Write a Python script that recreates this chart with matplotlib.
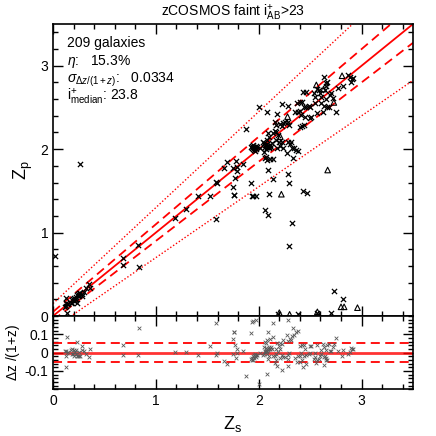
import numpy as np
import matplotlib
matplotlib.use("Agg")
import matplotlib.pyplot as plt
from matplotlib.ticker import MultipleLocator

# spectroscopic / photometric redshifts, crosses
zs_cross = [
    # low-z clump
    0.136, 0.13, 0.14, 0.13, 0.15, 0.13, 0.18, 0.20, 0.21, 0.22, 0.23, 0.25, 0.26, 0.23,
    0.20, 0.18, 0.17, 0.28, 0.28, 0.30, 0.32, 0.36, 0.22, 0.25, 0.35, 0.12, 0.19, 0.24,
    0.02, 0.26,
    # intermediate
    0.68, 0.68, 0.84, 0.83, 1.19, 1.29, 1.41, 1.53, 1.58, 1.59, 1.66, 1.69, 1.75, 1.75,
    1.76, 1.77, 1.78, 1.79, 1.79, 1.85, 1.88,
    # z ~ 2 blobs
    1.92, 1.93, 1.94, 1.95, 1.96, 1.97, 1.95, 1.93, 1.98, 1.94, 1.96, 1.97,
    2.06, 2.07, 2.08, 2.09, 2.10, 2.11, 2.08, 2.10, 2.12, 2.07,
    2.01, 2.05, 2.13, 2.18, 2.21, 2.05, 2.07, 2.11, 2.14, 2.27, 2.04, 2.06,
    2.09, 2.10, 2.08, 2.16, 2.19, 2.17, 2.23, 2.28, 2.30, 2.34, 2.38, 2.33,
    2.14, 2.17, 2.24, 2.32, 2.36, 2.06, 2.08, 2.31, 2.20,
    # high-z
    2.00, 2.08, 2.18, 2.23, 2.28, 2.16, 2.17, 2.21, 2.23, 2.24, 2.28, 2.29, 2.26,
    2.35, 2.37, 2.38, 2.40, 2.40, 2.41, 2.42, 2.43, 2.44, 2.46, 2.46, 2.49, 2.50,
    2.40, 2.42, 2.44, 2.45, 2.51, 2.50, 2.57, 2.54, 2.55, 2.55, 2.57, 2.59, 2.60,
    2.61, 2.61, 2.62, 2.63, 2.63, 2.64, 2.65, 2.65, 2.65, 2.66, 2.66, 2.68, 2.69,
    2.70, 2.72, 2.75, 2.77, 2.82, 2.87, 2.89, 2.90, 2.91, 2.92,
    # catastrophic outliers
    1.92, 1.93, 1.94, 1.97, 1.76, 2.09, 2.14, 2.10, 2.28, 2.29, 2.43, 2.47, 2.06,
    2.09, 1.58, 2.32, 2.29, 2.73, 2.82, 2.70, 2.38, 2.19, 2.57,
]
zp_cross = [
    0.04, 0.15, 0.145, 0.12, 0.145, 0.22, 0.19, 0.22, 0.205, 0.23, 0.25, 0.27, 0.28, 0.16,
    0.18, 0.155, 0.155, 0.26, 0.235, 0.29, 0.33, 0.33, 0.20, 0.245, 0.38, 0.11, 0.20, 0.26,
    0.72, 1.82,
    0.61, 0.70, 0.59, 0.85, 1.18, 1.28, 1.44, 1.44, 1.61, 1.60, 1.78, 1.85, 1.77, 1.55,
    1.45, 1.65, 1.86, 1.79, 1.74, 1.82, 2.24,
    2.02, 2.04, 2.00, 2.03, 2.01, 2.04, 1.99, 2.01, 2.02, 2.05, 1.98, 2.00,
    2.03, 2.05, 2.02, 2.04, 2.03, 2.05, 2.06, 2.01, 2.03, 2.00,
    2.01, 2.07, 2.07, 2.01, 2.04, 1.96, 1.91, 1.88, 1.88, 1.95, 2.08, 2.05,
    2.19, 2.15, 2.11, 2.22, 2.17, 2.11, 2.08, 2.08, 2.06, 2.01, 1.98, 1.89,
    2.19, 2.20, 2.01, 2.01, 1.99, 1.89, 1.87, 2.08, 2.09,
    2.51, 2.44, 2.42, 2.54, 2.52, 2.33, 2.29, 2.30, 2.28, 2.31, 2.33, 2.29, 2.33,
    2.45, 2.55, 2.45, 2.57, 2.46, 2.41, 2.28, 2.69, 2.29, 2.68, 2.50, 2.52, 2.51,
    2.27, 2.56, 2.51, 2.39, 2.38, 2.37, 2.43, 2.67, 2.63, 2.55, 2.72, 2.71, 2.67,
    2.63, 2.55, 2.45, 2.87, 2.52, 2.71, 2.79, 2.76, 2.60, 2.81, 2.51, 2.51, 2.65,
    2.67, 2.61, 2.45, 2.73, 2.76, 2.89, 2.87, 2.81, 2.84, 2.85,
    1.60, 1.44, 1.44, 1.44, 1.45, 1.75, 1.64, 1.46, 1.70, 1.59, 1.50, 1.48, 1.27,
    1.21, 1.16, 1.12, 0.84, 0.30, 0.20, 0.04, 0.02, 0.03, 0.04,
]

# triangles
zs_tri = [2.28, 2.21, 2.56, 2.73, 2.81, 2.67, 2.22, 2.20, 2.30, 2.57, 2.80, 2.83, 2.96, 2.63]
zp_tri = [2.39, 2.15, 2.77, 2.56, 2.88, 1.75, 1.46, 0.04, 0.02, 0.05, 0.11, 0.11, 0.10, 2.72]

plt.rcParams['font.family'] = ['Liberation Sans', 'DejaVu Sans']
plt.rcParams['mathtext.fontset'] = 'custom'
plt.rcParams['mathtext.rm'] = 'Liberation Sans'
plt.rcParams['mathtext.it'] = 'Liberation Sans:italic'

fig = plt.figure(figsize=(4.36, 4.36), dpi=100)
ax = fig.add_axes([0.1216, 0.2752, 0.8257, 0.6697])
axr = fig.add_axes([0.1216, 0.1071, 0.8257, 0.1681])

xx = np.linspace(0, 3.5, 200)
ax.plot(xx, xx, color='red', lw=1.3)
for k in [0.05, -0.05]:
    ax.plot(xx, xx + k * (1 + xx), color='red', lw=1.3, ls=(0, (5, 3)))
for k in [0.15, -0.15]:
    ax.plot(xx, xx + k * (1 + xx), color='red', lw=1.0, ls=(0, (1, 1.5)))

ax.scatter(zs_cross, zp_cross, marker='x', s=14, color='black', lw=0.9, zorder=3)
ax.scatter(zs_tri, zp_tri, marker='^', s=16, facecolors='none', edgecolors='black', lw=0.8, zorder=3)

ax.set_xlim(0, 3.5)
ax.set_ylim(0, 3.5)
ax.set_ylabel(r'Z$_{\rm p}$', fontsize=13)
ax.set_title(r'zCOSMOS faint i$^{+}_{\rm AB}$>23', fontsize=10, pad=5)
ax.tick_params(labelbottom=False)

ax.text(0.04, 0.935, '209 galaxies', transform=ax.transAxes, fontsize=10, va='center')
ax.text(0.04, 0.870, r'$\eta$:   15.3%', transform=ax.transAxes, fontsize=10, va='center')
ax.text(0.04, 0.810, r'$\sigma_{\Delta z/(1+z)}$:   0.0334', transform=ax.transAxes, fontsize=10, va='center')
ax.text(0.04, 0.750, r'i$^{+}_{\rm median}$: 23.8', transform=ax.transAxes, fontsize=10, va='center')

# residuals
zs_all = np.array(zs_cross + zs_tri)
zp_all = np.array(zp_cross + zp_tri)
dz = (zs_all - zp_all) / (1 + zs_all)
keep = np.abs(dz) < 0.2
axr.scatter(zs_all[keep], dz[keep], marker='x', s=7, color='0.35', lw=0.6, zorder=3)
axr.axhline(0, color='red', lw=2.0, alpha=0.8)
axr.axhline(0.05, color='red', lw=1.3, ls=(0, (5, 3)))
axr.axhline(-0.05, color='red', lw=1.3, ls=(0, (5, 3)))
axr.set_xlim(0, 3.5)
axr.set_ylim(-0.2, 0.2)
axr.set_yticks([-0.1, 0, 0.1])
axr.set_yticklabels(['-0.1', '0', '0.1'])
axr.set_xlabel(r'Z$_{\rm s}$', fontsize=13)
axr.set_ylabel(r'$\Delta$z /(1+z)', fontsize=10, labelpad=2)

for a in (ax, axr):
    a.xaxis.set_major_locator(MultipleLocator(1))
    a.xaxis.set_minor_locator(MultipleLocator(0.2))
    a.tick_params(which='both', direction='in', top=True, right=True, labelsize=10, width=1.0)
    a.tick_params(which='major', length=7)
    a.tick_params(which='minor', length=3.5)
    for s in a.spines.values():
        s.set_linewidth(1.2)
ax.yaxis.set_major_locator(MultipleLocator(1))
ax.yaxis.set_minor_locator(MultipleLocator(0.2))
axr.yaxis.set_minor_locator(MultipleLocator(0.02))

fig.savefig('out.png', dpi=100)
